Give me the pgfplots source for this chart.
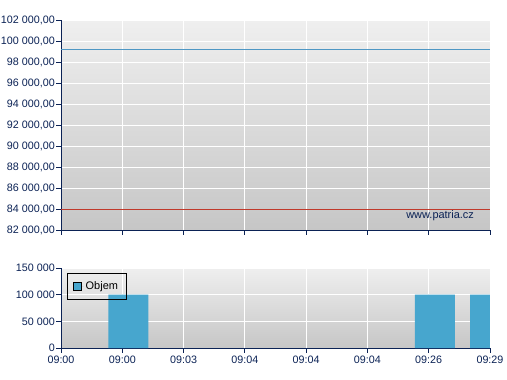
\documentclass[border=0pt]{standalone}
\usepackage{pgfplots}
\pgfplotsset{compat=1.18}
\usepackage{fontspec}
\setmainfont{Liberation Sans}
\definecolor{navy}{HTML}{0B2255}
\definecolor{barblue}{HTML}{47A6CE}
\definecolor{lineblue}{HTML}{4F97C4}
\definecolor{linered}{HTML}{C0392B}
\definecolor{bgtop}{HTML}{EFEFEF}
\definecolor{bgbot}{HTML}{C6C6C6}
\begin{document}
\fontsize{11}{13}\selectfont
\begin{tikzpicture}
\path[use as bounding box] (0,0) rectangle (507bp,-380bp);
\pgfplotsset{
  every axis/.append style={
    scale only axis, width=429bp,
    axis lines*=left,
    axis line style={draw=navy,line width=0.8pt,-},
    tick style={draw=navy,line width=0.8pt},
    tick align=outside,
    major tick length=4.5bp,
    grid=major,
    major grid style={white,line width=0.9pt},
    axis background/.style={shade,top color=bgtop,bottom color=bgbot},
    tick label style={text=navy,font=\fontsize{10.8}{13}\selectfont},
    yticklabel style={inner xsep=1.5bp},
    /pgf/number format/assume math mode=true,
    xmin=0,xmax=7,
    xtick={0,1,2,3,4,5,6,7},
    scaled ticks=false,
    clip=true,
  }
}
\begin{axis}[
  at={(61bp,-20bp)}, anchor=north west,
  height=210bp,
  ymin=82000, ymax=102000,
  ytick={82000,84000,...,102000},
  yticklabel={\pgfmathprintnumber[fixed,fixed zerofill,precision=2,use comma,1000 sep={\ }]{\tick}},
  xticklabels={},
]
\addplot[lineblue,line width=0.9pt] coordinates {(0,99200) (7,99200)};
\addplot[linered,line width=0.9pt] coordinates {(0,84000) (7,84000)};
\node[anchor=base east,text=navy,font=\fontsize{11}{13}\selectfont,inner sep=0pt] at (rel axis cs:0.963,0.055) {www.patria.cz};
\end{axis}
\begin{axis}[
  at={(61bp,-268bp)}, anchor=north west,
  height=80bp,
  ymin=0, ymax=150000,
  ytick={0,50000,100000,150000},
  yticklabel={\pgfmathprintnumber[fixed,precision=0,1000 sep={\ }]{\tick}},
  xticklabels={09:00,09:00,09:03,09:04,09:04,09:04,09:26,09:29},
  legend style={draw=black,fill=none,line width=0.8pt,
    font=\fontsize{11}{13}\selectfont,inner xsep=6bp,inner ysep=6.5bp,
    at={(rel axis cs:0.014,0.94)},anchor=north west},
  legend image code/.code={\path (0bp,0bp) -- (10bp,0bp);\draw[fill=barblue,draw=black,line width=0.6pt] (0bp,-4bp) rectangle (8bp,4bp);},
]
\addplot[ybar,bar width=0.65,fill=barblue,draw=none,bar shift=0pt] coordinates {(1.1,100000) (6.1,100000) (7.0,100000)};
\addlegendentry{Objem}
\end{axis}
\end{tikzpicture}
\end{document}
